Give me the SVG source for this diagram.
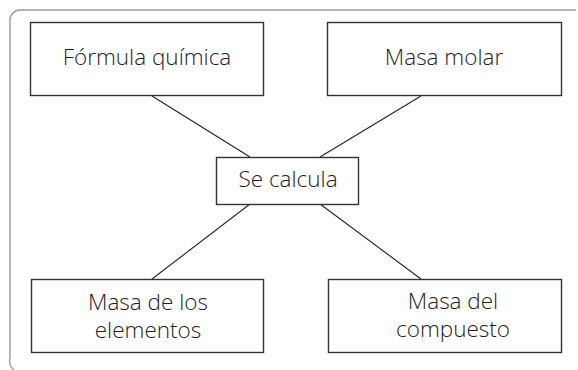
<svg xmlns="http://www.w3.org/2000/svg" width="578" height="370" viewBox="0 0 578 370">
<style>
.frame{fill:none;stroke:#9a9a9a;stroke-width:1.4}
.box{fill:#fff;stroke:#333;stroke-width:1.4}
.conn{stroke:#222;stroke-width:1.1;fill:none}
.t{font-family:"Open Sans","Noto Sans","Liberation Sans",sans-serif;font-size:22.5px;font-weight:300;fill:#1e1e1e;text-anchor:middle}
</style>
<rect width="578" height="370" fill="#fff"/>
<path class="frame" d="M576,10 H20 A10,10 0 0 0 10,20 V358 A12,12 0 0 0 14,370"/>
<g id="connectors">
<line class="conn" x1="152" y1="96" x2="250" y2="157"/>
<line class="conn" x1="421" y1="96" x2="320" y2="157"/>
<line class="conn" x1="250" y1="204" x2="152" y2="279"/>
<line class="conn" x1="320" y1="204" x2="421" y2="279"/>
</g>
<g id="formula">
<rect class="box" x="30.5" y="22.5" width="233" height="73"/>
<text class="t" x="147" y="65">Fórmula química</text>
</g>
<g id="masa-molar">
<rect class="box" x="327.5" y="22.5" width="234" height="73"/>
<text class="t" x="444" y="65">Masa molar</text>
</g>
<g id="se-calcula">
<rect class="box" x="216.5" y="157.5" width="142" height="47"/>
<text class="t" x="288" y="187">Se calcula</text>
</g>
<g id="masa-elementos">
<rect class="box" x="31.5" y="279.5" width="232" height="73"/>
<text class="t" x="148" y="310">Masa de los</text>
<text class="t" x="148" y="338">elementos</text>
</g>
<g id="masa-compuesto">
<rect class="box" x="328.5" y="279.5" width="233" height="73"/>
<text class="t" x="453" y="309">Masa del</text>
<text class="t" x="453" y="337">compuesto</text>
</g>
</svg>
